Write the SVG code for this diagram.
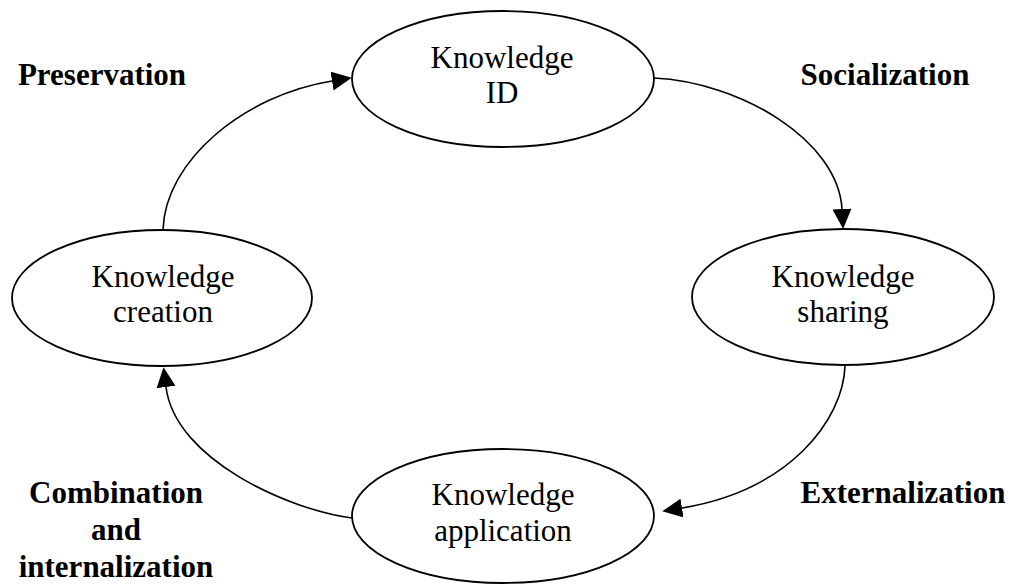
<svg xmlns="http://www.w3.org/2000/svg" width="1011" height="585" viewBox="0 0 1011 585">
  <style>
    .node { fill: #ffffff; stroke: #000000; stroke-width: 1.8; }
    .lbl { font-family: "Liberation Serif", "Times New Roman", serif; font-size: 31px; fill: #000000; text-anchor: middle; }
    .phase { font-family: "Liberation Serif", "Times New Roman", serif; font-size: 31px; font-weight: bold; fill: #000000; text-anchor: middle; }
    .edge { fill: none; stroke: #000000; stroke-width: 1.6; marker-end: url(#arrow); }
  </style>
  <defs>
    <marker id="arrow" markerUnits="userSpaceOnUse" markerWidth="22" markerHeight="20" refX="0" refY="9.5" orient="auto">
      <path d="M0,0 L20,9.5 L0,19 z" fill="#000000"/>
    </marker>
  </defs>

  <rect width="1011" height="585" fill="#ffffff"/>

  <!-- cycle connectors -->
  <g id="connectors">
    <path id="e-socialization" class="edge" d="M654,78 C740,82 838,140 842,209"/>
    <path id="e-externalization" class="edge" d="M845,366 C843,420 790,490 682,508"/>
    <path id="e-combination" class="edge" d="M352,518 C290,510 175,460 166,387"/>
    <path id="e-preservation" class="edge" d="M163,230 C165,160 245,95 332,81"/>
  </g>

  <g id="node-id">
    <ellipse class="node" cx="503" cy="79" rx="151" ry="68"/>
    <text class="lbl" x="502" y="68">Knowledge</text>
    <text class="lbl" x="502" y="103">ID</text>
  </g>

  <g id="node-sharing">
    <ellipse class="node" cx="843" cy="297" rx="151" ry="68"/>
    <text class="lbl" x="843" y="287">Knowledge</text>
    <text class="lbl" x="843" y="322">sharing</text>
  </g>

  <g id="node-application">
    <ellipse class="node" cx="503" cy="516" rx="151" ry="67"/>
    <text class="lbl" x="503" y="505">Knowledge</text>
    <text class="lbl" x="503" y="541">application</text>
  </g>

  <g id="node-creation">
    <ellipse class="node" cx="162" cy="298" rx="150" ry="68"/>
    <text class="lbl" x="163" y="287">Knowledge</text>
    <text class="lbl" x="163" y="322">creation</text>
  </g>

  <!-- phase labels -->
  <g id="phase-labels">
    <text class="phase" x="102" y="85">Preservation</text>
    <text class="phase" x="885" y="85">Socialization</text>
    <text class="phase" x="903" y="503">Externalization</text>
    <text class="phase" x="116" y="503">Combination</text>
    <text class="phase" x="116" y="540">and</text>
    <text class="phase" x="116" y="577">internalization</text>
  </g>
</svg>
